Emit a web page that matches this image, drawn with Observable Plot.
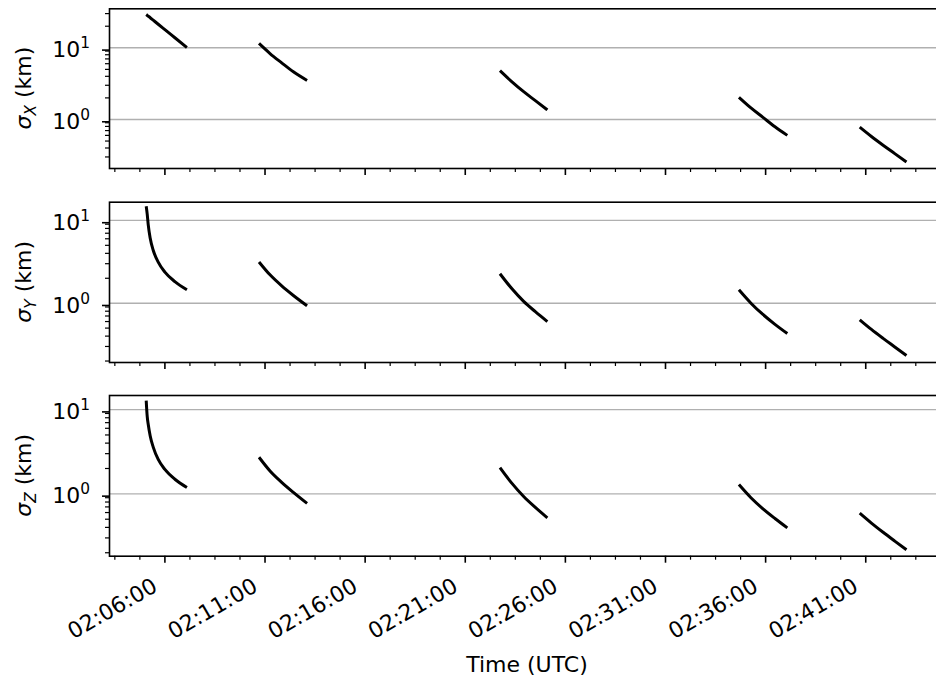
<!DOCTYPE html>
<html>
<head>
<meta charset="utf-8">
<script src="https://cdn.jsdelivr.net/npm/d3@7"></script>
<script src="https://cdn.jsdelivr.net/npm/@observablehq/plot@0.6"></script>
<style>
  html, body { margin: 0; padding: 0; background: #fff; }
  #chart { position: relative; width: 936px; height: 682px; overflow: hidden; background: #fff; }
  .panel { position: absolute; left: 0; width: 946px; }
  .panel svg { overflow: visible; max-width: none !important; display: block; }
</style>
</head>
<body>
<div id="chart"></div>
<script>
// Sample times (UTC) of each tracking pass; the three sigma series share them.
const segmentTimes = [
  ["02:05:04", "02:05:07", "02:05:10", "02:05:16", "02:05:25", "02:05:40", "02:06:00", "02:06:30", "02:07:06"],
  ["02:10:42", "02:11:15", "02:11:50", "02:12:25", "02:13:06"],
  ["02:22:44", "02:23:20", "02:23:55", "02:24:30", "02:25:06"],
  ["02:34:40", "02:35:16", "02:35:52", "02:36:28", "02:37:05"],
  ["02:40:42", "02:41:17", "02:41:52", "02:42:27", "02:43:02"]
];

// Position uncertainty (km) per pass
const sigmaX = [
  [29.1, 28.4, 27.6, 26.3, 24.3, 21.3, 17.9, 13.8, 10.1],
  [11.5, 8.32, 6.17, 4.62, 3.5],
  [4.8, 3.35, 2.44, 1.83, 1.36],
  [2.04, 1.45, 1.07, 0.79, 0.6],
  [0.78, 0.578, 0.437, 0.334, 0.255]
];
const sigmaY = [
  [14.8, 11.9, 8.9, 6.07, 4.36, 3.13, 2.37, 1.82, 1.45],
  [3.15, 2.2, 1.62, 1.24, 0.93],
  [2.27, 1.49, 1.05, 0.79, 0.6],
  [1.45, 1.0, 0.73, 0.555, 0.43],
  [0.63, 0.482, 0.376, 0.296, 0.233]
];
const sigmaZ = [
  [12.8, 8.3, 6.7, 4.86, 3.59, 2.56, 1.95, 1.49, 1.19],
  [2.72, 1.87, 1.37, 1.04, 0.77],
  [2.05, 1.33, 0.93, 0.69, 0.52],
  [1.29, 0.9, 0.665, 0.51, 0.395],
  [0.59, 0.45, 0.35, 0.275, 0.217]
];

// Axis ticks
const timeTickLabels = ["02:06:00", "02:11:00", "02:16:00", "02:21:00", "02:26:00", "02:31:00", "02:36:00", "02:41:00"];
const timeDomain = ["02:03:14", "02:44:56"];
const yMajorTicks = [1, 10];
const xAxisLabel = "Time (UTC)";
const yAxisNames = ["X", "Y", "Z"];

const FONT = "DejaVu Sans, Liberation Sans, sans-serif";
const FS = 22;
const at = s => new Date(`2020-01-01T${s}Z`);

function rowsFor(values) {
  return segmentTimes.flatMap((times, s) =>
    times.map((tm, i) => ({seg: s, t: at(tm), v: values[s][i]})));
}

// Minor time ticks: four intervals between labelled ticks (every 75 s)
const minorTimeTicks = [];
for (let ms = at("02:03:30").getTime(); ms <= at("02:44:56").getTime(); ms += 75000) {
  if (((ms - at("02:06:00").getTime()) % 300000) !== 0) minorTimeTicks.push(new Date(ms));
}
const majorTimeTicks = timeTickLabels.map(at);

function logMinors([lo, hi]) {
  const out = [];
  for (let e = -2; e <= 3; e++) for (let m = 2; m <= 9; m++) {
    const v = m * Math.pow(10, e);
    if (v >= lo && v <= hi) out.push(v);
  }
  return out;
}

const panels = [
  {values: sigmaX, name: yAxisNames[0], top: 0,   height: 190, mt: 8.3,  mb: 22,    domain: [0.207, 35]},
  {values: sigmaY, name: yAxisNames[1], top: 190, height: 190, mt: 11.7, mb: 18,    domain: [0.192, 16.6]},
  {values: sigmaZ, name: yAxisNames[2], top: 380, height: 302, mt: 15,   mb: 126.3, domain: [0.182, 14.7]}
];

const chart = document.getElementById("chart");

panels.forEach((p, idx) => {
  const last = idx === panels.length - 1;
  const marks = [
    Plot.gridY(yMajorTicks, {stroke: "#b0b0b0", strokeOpacity: 1, strokeWidth: 1.4}),
    Plot.line(rowsFor(p.values), {
      x: "t", y: "v", z: "seg", stroke: "black", strokeWidth: 3,
      curve: "monotone-x", strokeLinecap: "butt"
    }),
    Plot.axisY(logMinors(p.domain), {tickSize: 4, strokeWidth: 1.2, tickFormat: () => "", label: null}),
    Plot.axisY(yMajorTicks, {
      tickSize: 7, strokeWidth: 1.6, tickPadding: 12.5, dy: 2.3, fontSize: FS,
      tickFormat: d => `10^${Math.round(Math.log10(d))}`, label: null
    }),
    Plot.axisX(minorTimeTicks, {tickSize: 4, strokeWidth: 1.2, tickFormat: () => "", label: null}),
    Plot.axisX(majorTimeTicks, {tickSize: 7, strokeWidth: 1.6, tickFormat: () => "", label: null}),
    Plot.frame({stroke: "black", strokeWidth: 1.6})
  ];
  if (last) {
    marks.push(
      Plot.text(timeTickLabels, {
        x: d => at(d), text: d => d, frameAnchor: "bottom",
        textAnchor: "end", lineAnchor: "bottom", rotate: -30,
        dx: -6, dy: 34, fontSize: FS, fill: "black"
      }),
      Plot.text([xAxisLabel], {
        text: d => d, frameAnchor: "bottom", lineAnchor: "bottom",
        dy: 116, fontSize: FS, fill: "black"
      })
    );
  }

  const plot = Plot.plot({
    width: 946,
    height: p.height,
    marginLeft: 109,
    marginRight: 2,
    marginTop: p.mt,
    marginBottom: p.mb,
    x: {type: "utc", domain: timeDomain.map(at)},
    y: {type: "log", domain: p.domain},
    style: {fontFamily: FONT, fontSize: FS + "px", color: "black", background: "transparent", overflow: "visible"},
    marks
  });

  const svg = d3.select(plot);

  // Powers of ten with a raised exponent
  svg.selectAll('g[aria-label="y-axis tick label"] text').each(function () {
    const [base, exp] = this.textContent.split("^");
    const t = d3.select(this);
    t.text(null);
    t.append("tspan").text(base);
    t.append("tspan").attr("font-size", FS * 0.7).attr("dy", -9).text(exp);
  });

  // Rotated y title: σ with subscript axis name
  const cy = (p.mt + p.height - p.mb) / 2;
  const title = svg.append("text")
    .attr("transform", `translate(31,${cy}) rotate(-90)`)
    .attr("text-anchor", "middle")
    .attr("font-family", FONT)
    .attr("font-size", FS)
    .attr("fill", "black");
  title.append("tspan").attr("font-style", "italic").text("σ");
  title.append("tspan").attr("font-style", "italic").attr("font-size", FS * 0.7).attr("dy", 4.8).text(p.name);
  title.append("tspan").attr("dy", -4.8).text(" (km)");

  const holder = document.createElement("div");
  holder.className = "panel";
  holder.style.top = p.top + "px";
  holder.appendChild(plot);
  chart.appendChild(holder);
});
</script>
</body>
</html>
